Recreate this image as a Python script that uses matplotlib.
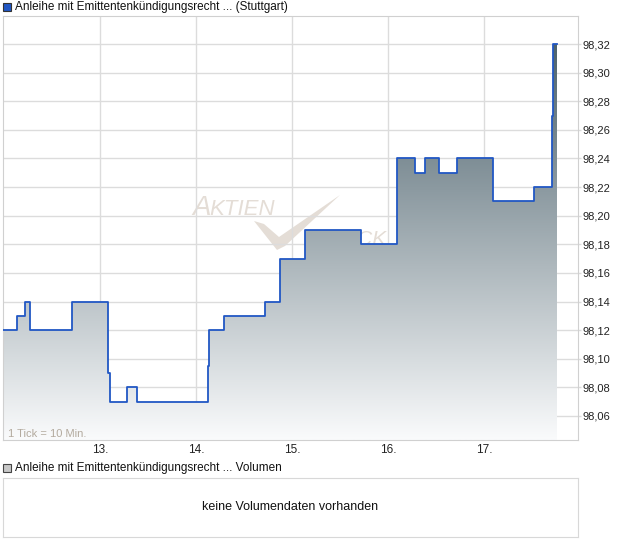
import matplotlib
matplotlib.use('Agg')
import numpy as np
import matplotlib.pyplot as plt
from matplotlib.colors import LinearSegmentedColormap
from matplotlib.patches import Rectangle, Polygon
from matplotlib.ticker import FuncFormatter, MultipleLocator

plt.rcParams['font.family'] = ['Liberation Sans', 'DejaVu Sans']

# Kursverlauf (Position in Handelstagen, Kurs), Stufen jeweils ab Position
tick_pos = [11.99, 12.135, 12.22, 12.27, 12.71, 13.08, 13.10, 13.28, 13.385,
            14.125, 14.135, 14.29, 14.72, 14.875, 15.135, 15.72, 16.095, 16.28,
            16.385, 16.53, 16.72, 17.095, 17.52, 17.71, 17.72, 17.76]
kurs = [98.12, 98.13, 98.14, 98.12, 98.14, 98.09, 98.07, 98.08, 98.07,
        98.095, 98.12, 98.13, 98.14, 98.17, 98.19, 98.18, 98.24, 98.23,
        98.24, 98.23, 98.24, 98.21, 98.22, 98.27, 98.32, 98.32]

day_pos = [13, 14, 15, 16, 17]
day_labels = ['13.', '14.', '15.', '16.', '17.']

W, H = 620, 546
fig = plt.figure(figsize=(W / 100, H / 100), dpi=100)
ax = fig.add_axes([3 / W, 1 - 440 / H, 575 / W, 424 / H])

x0, x1 = 11.99, 17.98
y0, y1 = 98.0432, 98.3396
ax.set_xlim(x0, x1)
ax.set_ylim(y0, y1)

gridc = '#dcdcdc'
ax.yaxis.set_major_locator(MultipleLocator(0.02))
ax.set_xticks(day_pos)
ax.set_xticklabels(day_labels)
ax.grid(True, color=gridc, lw=1, zorder=0)
ax.set_axisbelow(True)
for s in ax.spines.values():
    s.set_color('#d0d0d0')
ax.yaxis.tick_right()
ax.yaxis.set_major_formatter(FuncFormatter(lambda v, p: f'{v:.2f}'.replace('.', ',')))
ax.tick_params(axis='y', length=2, width=1, color=gridc, pad=1.5, labelsize=8, labelcolor='#222222')
ax.tick_params(axis='x', length=0, pad=3, labelsize=8.5, labelcolor='#222222')

# Wasserzeichen
def px(xp, yp):
    return ((xp - 3) / 575, (440 - yp) / 424)

wm = '#e4ddd6'
ax.text(*px(192, 215), 'A', transform=ax.transAxes, fontsize=20, style='italic',
        color=wm, zorder=0.5)
ax.text(*px(209, 215), 'KTIEN', transform=ax.transAxes, fontsize=16, style='italic',
        color=wm, zorder=0.5)
ax.text(*px(314, 245), 'CHECK', transform=ax.transAxes, fontsize=15, style='italic',
        color=wm, zorder=0.5)
check = [px(254, 221), px(264, 224), px(279, 237), px(340, 195), px(285, 246), px(277, 250)]
ax.add_patch(Polygon(check, closed=True, transform=ax.transAxes, facecolor=wm,
                     edgecolor='none', zorder=0.5))

# Flaeche mit Verlauf
fill = ax.fill_between(tick_pos, kurs, y0, step='post', facecolor='none',
                       edgecolor='none', zorder=1)
cmap = LinearSegmentedColormap.from_list('g', ['#fafbfc', '#405762'])
grad = np.linspace(0, 1, 256).reshape(-1, 1)
img = ax.imshow(grad, extent=[x0, x1, y0, y1], aspect='auto', origin='lower',
                cmap=cmap, zorder=1)
img.set_clip_path(fill.get_paths()[0], transform=ax.transData)

ax.step(tick_pos, kurs, where='post', color='#2157c4', lw=1.3, zorder=3)

ax.text(*px(8, 434), '1 Tick = 10 Min.', transform=ax.transAxes, fontsize=8,
        color='#b3aa9e', va='center', ha='left', zorder=4)

# Legenden
fig.patches.append(Rectangle((3 / W, 1 - 11 / H), 8 / W, 8 / H, transform=fig.transFigure,
                             facecolor='#2157c4', edgecolor='#333333', lw=0.8))
fig.text(15 / W, 1 - 7 / H, 'Anleihe mit Emittentenkündigungsrecht ... (Stuttgart)',
         fontsize=8.5, va='center', ha='left', color='#111111')
fig.patches.append(Rectangle((3 / W, 1 - 472 / H), 8 / W, 8 / H, transform=fig.transFigure,
                             facecolor='#c8c8c8', edgecolor='#444444', lw=0.8))
fig.text(15 / W, 1 - 468 / H, 'Anleihe mit Emittentenkündigungsrecht ... Volumen',
         fontsize=8.5, va='center', ha='left', color='#111111')

# Volumen-Panel
ax2 = fig.add_axes([3 / W, 1 - 537 / H, 575 / W, 59 / H])
ax2.set_xticks([])
ax2.set_yticks([])
for s in ax2.spines.values():
    s.set_color('#d8d8d8')
ax2.text(0.5, 0.5, 'keine Volumendaten vorhanden', transform=ax2.transAxes,
         ha='center', va='center', fontsize=9, color='#111111')

fig.savefig('out.png', dpi=100)
